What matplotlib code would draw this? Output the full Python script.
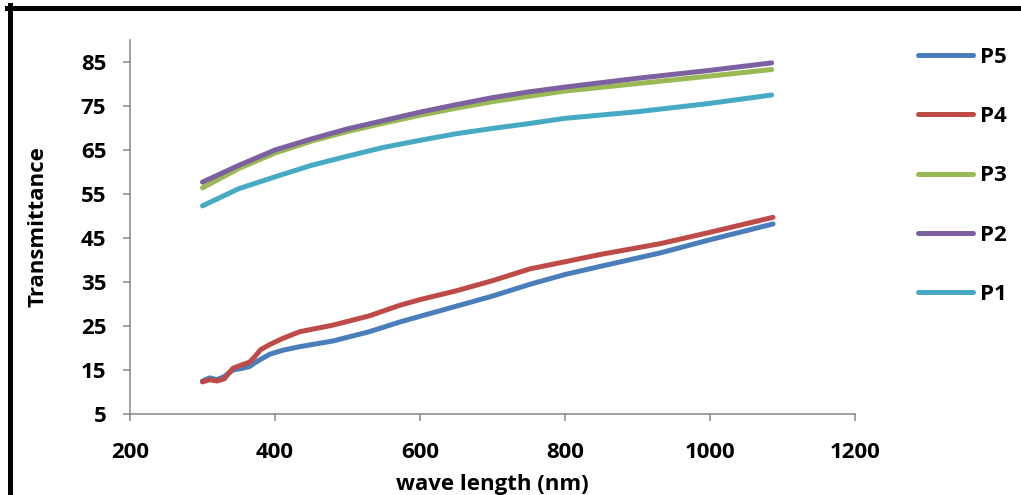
import numpy as np
import matplotlib.pyplot as plt
from matplotlib.lines import Line2D

plt.rcParams['font.family'] = ['Open Sans', 'DejaVu Sans']
plt.rcParams['font.weight'] = 'bold'

# Data
wl_hi = [300, 350, 400, 450, 500, 550, 600, 650, 700, 750, 800, 900, 1000, 1085]
p2 = [57.7, 61.5, 65.0, 67.5, 69.8, 71.7, 73.6, 75.3, 76.9, 78.2, 79.3, 81.3, 83.1, 84.8]
p3 = [56.4, 60.8, 64.3, 67.0, 69.2, 71.1, 72.9, 74.5, 76.0, 77.2, 78.4, 80.1, 81.8, 83.3]
p1 = [52.3, 56.2, 58.9, 61.5, 63.6, 65.6, 67.2, 68.7, 69.9, 71.0, 72.2, 73.7, 75.6, 77.5]

wl_lo = [300, 310, 320, 330, 342, 355, 365, 372, 380, 393, 411, 434, 480, 530,
         572, 600, 650, 700, 752, 800, 850, 931, 1000, 1087]
p4 = [12.3, 12.8, 12.5, 13.0, 15.4, 16.2, 16.8, 18.0, 19.6, 20.8, 22.2, 23.7, 25.2,
      27.3, 29.7, 31.0, 33.0, 35.3, 38.0, 39.6, 41.3, 43.7, 46.3, 49.7]
p5 = [12.5, 13.2, 12.8, 13.5, 15.0, 15.4, 15.8, 16.6, 17.4, 18.6, 19.5, 20.3, 21.6,
      23.7, 25.9, 27.2, 29.5, 31.8, 34.5, 36.7, 38.6, 41.6, 44.6, 48.2]

labels = ['P5', 'P4', 'P3', 'P2', 'P1']
colors = ['#4A7EBB', '#BE4B48', '#98B954', '#7D60A0', '#46AAC5']
series = [(wl_lo, p5), (wl_lo, p4), (wl_hi, p3), (wl_hi, p2), (wl_hi, p1)]

fig = plt.figure(figsize=(10.21, 4.95), dpi=100)
ax = fig.add_axes([0.1273, 0.1636, 0.7101, 0.7556])

for (xs, ys), lab, c in zip(series, labels, colors):
    ax.plot(xs, ys, color=c, lw=3.6, label=lab, solid_capstyle='round')

ax.set_xlim(200, 1200)
ax.set_ylim(5, 90)
ax.set_xticks([200, 400, 600, 800, 1000, 1200])
ax.set_yticks([5, 15, 25, 35, 45, 55, 65, 75, 85])

for s in ['top', 'right']:
    ax.spines[s].set_visible(False)
for s in ['left', 'bottom']:
    ax.spines[s].set_color('#868686')
    ax.spines[s].set_linewidth(1.1)
ax.tick_params(colors='#868686', length=5, width=1.1, labelcolor='black',
               labelsize=16)
ax.tick_params(axis='y', pad=12)
ax.tick_params(axis='x', pad=15)

ax.set_xlabel('wave length (nm)', fontsize=16, fontweight='bold')
ax.set_ylabel('Transmittance', fontsize=16, fontweight='bold')
ax.xaxis.set_label_coords(0.5, -0.16)
ax.yaxis.set_label_coords(-0.112, 0.5)

fig.legend(loc='upper left', bbox_to_anchor=(0.899, 0.905), frameon=False,
           fontsize=16, handlelength=2.5, handletextpad=0.3, labelspacing=1.72,
           borderpad=0, borderaxespad=0)

# outer frame (top and left edges visible)
fig.add_artist(Line2D([7 / 1021, 1], [1 - 7.5 / 495] * 2, color='black', lw=3.6,
                      transform=fig.transFigure))
fig.add_artist(Line2D([9.5 / 1021] * 2, [0, 1 - 5 / 495], color='black', lw=3.6,
                      transform=fig.transFigure))

fig.savefig('out.png', dpi=100)
